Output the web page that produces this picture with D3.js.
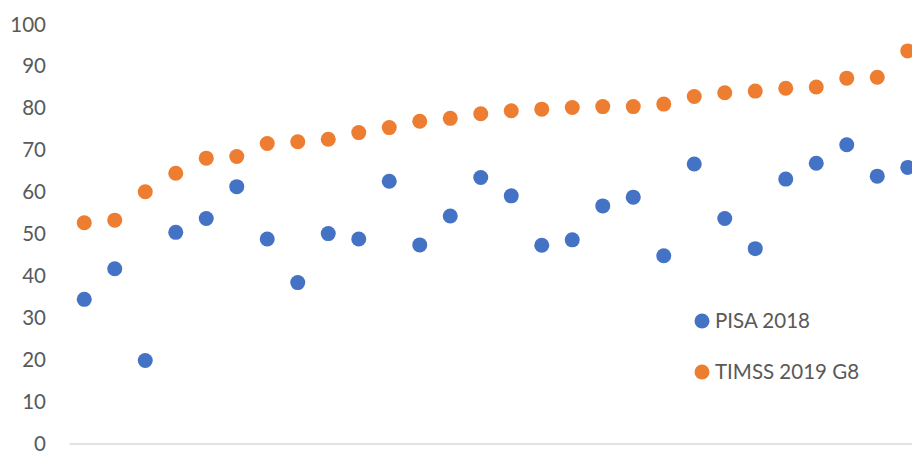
<!DOCTYPE html>
<html>
<head>
<meta charset="utf-8">
<script src="https://cdn.jsdelivr.net/npm/d3@7/dist/d3.min.js"></script>
<style>
  html, body { margin: 0; padding: 0; background: #fff; overflow: hidden; }
  svg { display: block; font-family: "Lato", "Open Sans", sans-serif; }
</style>
</head>
<body>
<svg id="chart" width="912" height="451"></svg>
<script>
// Category index (28 systems, sorted by TIMSS score)
const categories = d3.range(1, 29).map(String);

const pisa2018 = [34.4, 41.7, 19.8, 50.4, 53.7, 61.3, 48.8, 38.4, 50.1, 48.8,
                  62.6, 47.4, 54.3, 63.5, 59.1, 47.3, 48.6, 56.7, 58.8, 44.8,
                  66.7, 53.7, 46.5, 63.1, 66.9, 71.3, 63.8, 65.9];

const timss2019 = [52.7, 53.3, 60.1, 64.5, 68.1, 68.5, 71.6, 72.0, 72.6, 74.2,
                   75.4, 76.9, 77.6, 78.7, 79.4, 79.8, 80.2, 80.4, 80.4, 81.0,
                   82.8, 83.7, 84.1, 84.8, 85.1, 87.2, 87.4, 93.7];

const yTicks = [0, 10, 20, 30, 40, 50, 60, 70, 80, 90, 100];

const seriesNames = ["PISA 2018", "TIMSS 2019 G8"];
const seriesColors = ["#4472C4", "#ED7D31"];

const svg = d3.select("#chart");

const x = d3.scaleBand().domain(categories).range([69, 923]);
const y = d3.scaleLinear().domain([0, 100]).range([443.5, 24.5]);

// Y axis labels (no axis line, no ticks)
const yAxis = d3.axisLeft(y).tickValues(yTicks).tickSize(0).tickPadding(0);
const gy = svg.append("g").attr("transform", "translate(46,0)").call(yAxis);
gy.select(".domain").remove();
gy.selectAll("text")
  .attr("fill", "#595959")
  .style("font-size", "20.5px")
  .style("font-family", "Lato, 'Open Sans', sans-serif");

// Category axis baseline
const xAxis = d3.axisBottom(x).tickSize(0).tickFormat("");
const gx = svg.append("g").attr("transform", `translate(0,${y(0)})`).call(xAxis);
gx.select(".domain").attr("stroke", "#d9d9d9").attr("stroke-width", 1.5);

// Scatter markers
const series = [pisa2018, timss2019];
series.forEach((vals, si) => {
  svg.append("g")
    .selectAll("circle")
    .data(vals)
    .join("circle")
    .attr("cx", (d, i) => x(categories[i]) + x.bandwidth() / 2)
    .attr("cy", d => y(d))
    .attr("r", 7.5)
    .attr("fill", seriesColors[si]);
});

// Legend
const legend = svg.append("g").attr("transform", "translate(702,321)");
seriesNames.forEach((name, i) => {
  const g = legend.append("g").attr("transform", `translate(0,${i * 51})`);
  g.append("circle").attr("r", 7.5).attr("fill", seriesColors[i]);
  g.append("text")
    .attr("x", 13)
    .attr("dy", "0.35em")
    .attr("fill", "#595959")
    .style("font-size", "20.5px")
    .text(name);
});
</script>
</body>
</html>
